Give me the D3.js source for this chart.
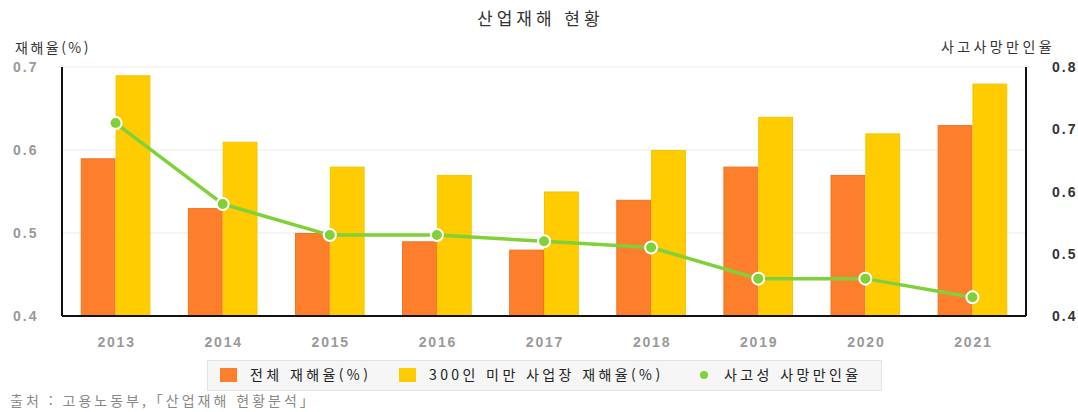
<!DOCTYPE html>
<html lang="ko">
<head>
<meta charset="UTF-8">
<title>산업재해 현황</title>
<script src="https://d3js.org/d3.v7.min.js"></script>
<style>
  body { margin: 0; background: #fff; font-family: "Noto Sans CJK KR", "Noto Sans", sans-serif; }
  svg text { font-family: "Noto Sans CJK KR", "Noto Sans", sans-serif; }
  svg text.num { font-family: "Liberation Sans", Arial, sans-serif; font-weight: bold; }
</style>
</head>
<body>
<div id="chart"></div>
<script>
const years = ["2013", "2014", "2015", "2016", "2017", "2018", "2019", "2020", "2021"];
const totalRate = [0.59, 0.53, 0.50, 0.49, 0.48, 0.54, 0.58, 0.57, 0.63];
const smallRate = [0.69, 0.61, 0.58, 0.57, 0.55, 0.60, 0.64, 0.62, 0.68];
const deathRate = [0.71, 0.58, 0.53, 0.53, 0.52, 0.51, 0.46, 0.46, 0.43];
const leftTicks = [0.4, 0.5, 0.6, 0.7];
const rightTicks = [0.4, 0.5, 0.6, 0.7, 0.8];
const seriesNames = ["전체 재해율(%)", "300인 미만 사업장 재해율(%)", "사고성 사망만인율"];

const width = 1078, height = 412;
const margin = { top: 67, right: 52, bottom: 96, left: 62 };
const innerW = width - margin.left - margin.right;
const innerH = height - margin.top - margin.bottom;

const svg = d3.select("#chart").append("svg")
  .attr("width", width).attr("height", height);

// title
svg.append("text")
  .attr("x", 477).attr("y", 25)
  .attr("font-size", 17).attr("fill", "#333").attr("letter-spacing", 4)
  .text("산업재해 현황");

const g = svg.append("g").attr("transform", `translate(${margin.left},${margin.top})`);

const x = d3.scaleBand().domain(years).range([0, innerW]).paddingInner(0).paddingOuter(0);
const xSub = d3.scaleBand().domain([0, 1]).range([x.bandwidth() * 0.175, x.bandwidth() * 0.825]);
const yL = d3.scaleLinear().domain([0.4, 0.7]).range([innerH, 0]);
const yR = d3.scaleLinear().domain([0.4, 0.8]).range([innerH, 0]);

// gridlines
g.selectAll(".grid").data(leftTicks.slice(1)).join("line")
  .attr("x1", 0).attr("x2", innerW)
  .attr("y1", d => yL(d)).attr("y2", d => yL(d))
  .attr("stroke", "#ebebeb").attr("stroke-width", 1);

// bars
const colors = ["#fd7f2c", "#fecc00"];
const strokes = ["#ef7325", "#f5c400"];
[totalRate, smallRate].forEach((vals, i) => {
  g.append("g").selectAll("rect").data(vals).join("rect")
    .attr("x", (d, j) => x(years[j]) + xSub(i) + 0.5)
    .attr("y", d => yL(d) + 0.5)
    .attr("width", xSub.bandwidth() - 1)
    .attr("height", d => innerH - yL(d) - 0.5)
    .attr("fill", colors[i])
    .attr("stroke", strokes[i]).attr("stroke-width", 1);
});

// line
const cx = (d, j) => x(years[j]) + x.bandwidth() / 2;
g.append("path").datum(deathRate)
  .attr("fill", "none").attr("stroke", "#80d03a").attr("stroke-width", 3.5)
  .attr("d", d3.line().x(cx).y(d => yR(d)));
g.selectAll(".pt").data(deathRate).join("circle")
  .attr("cx", cx).attr("cy", d => yR(d)).attr("r", 6)
  .attr("fill", "#80d03a").attr("stroke", "#fff").attr("stroke-width", 2);

// axes frame
g.append("line").attr("x1", 0).attr("x2", 0).attr("y1", 0).attr("y2", innerH)
  .attr("stroke", "#111").attr("stroke-width", 2);
g.append("line").attr("x1", innerW).attr("x2", innerW).attr("y1", 0).attr("y2", innerH)
  .attr("stroke", "#111").attr("stroke-width", 2);
g.append("line").attr("x1", 0).attr("x2", innerW).attr("y1", innerH).attr("y2", innerH)
  .attr("stroke", "#111").attr("stroke-width", 2);

// left ticks
g.selectAll(".lt").data(leftTicks).join("text")
  .attr("class", "num")
  .attr("x", -49).attr("y", d => yL(d) + 5)
  .attr("font-size", 14).attr("letter-spacing", 2)
  .attr("fill", "#999").text(d => d.toFixed(1));

// right ticks
g.selectAll(".rt").data(rightTicks).join("text")
  .attr("class", "num")
  .attr("x", innerW + 26).attr("y", d => yR(d) + 5)
  .attr("font-size", 14).attr("letter-spacing", 2)
  .attr("fill", "#333").text(d => d.toFixed(1));

// x labels
g.selectAll(".xl").data(years).join("text")
  .attr("class", "num")
  .attr("x", d => x(d) + x.bandwidth() / 2 + 1).attr("y", innerH + 31)
  .attr("text-anchor", "middle").attr("font-size", 14).attr("letter-spacing", 1.8)
  .attr("fill", "#999").text(d => d);

// axis titles
svg.append("text").attr("x", 15).attr("y", 53)
  .attr("font-size", 14).attr("fill", "#333").attr("letter-spacing", 2.5).text("재해율(%)");
svg.append("text").attr("x", 941).attr("y", 52)
  .attr("font-size", 14).attr("fill", "#333")
  .attr("letter-spacing", 3.4).text("사고사망만인율");

// legend
const lg = svg.append("g");
lg.append("rect").attr("x", 207.5).attr("y", 360.5).attr("width", 674).attr("height", 30)
  .attr("fill", "#f6f6f6").attr("stroke", "#e3e3e3");
const legendX = [220, 399, 700];
seriesNames.forEach((name, i) => {
  if (i < 2) {
    lg.append("rect").attr("x", legendX[i]).attr("y", 368).attr("width", 17).attr("height", 14)
      .attr("fill", colors[i]);
  } else {
    lg.append("circle").attr("cx", legendX[i] + 4).attr("cy", 375).attr("r", 4).attr("fill", "#80d03a");
  }
  lg.append("text").attr("x", legendX[i] + (i < 2 ? 30 : 24)).attr("y", 380)
    .attr("font-size", 14).attr("fill", "#222").attr("letter-spacing", 3.4).text(name);
});

// source
svg.append("text").attr("x", 10).attr("y", 406)
  .attr("font-size", 14).attr("fill", "#888").attr("letter-spacing", 3)
  .text("출처 : 고용노동부,「산업재해 현황분석」");
</script>
</body>
</html>
